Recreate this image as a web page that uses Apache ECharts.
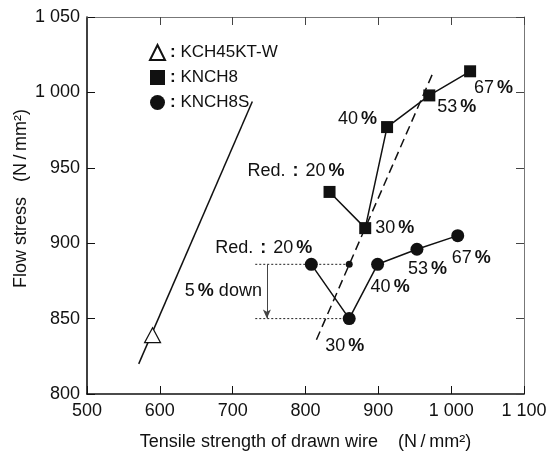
<!DOCTYPE html>
<html>
<head>
<meta charset="utf-8">
<script src="https://cdn.jsdelivr.net/npm/echarts@6/dist/echarts.min.js"></script>
<style>
  html, body { margin: 0; padding: 0; background: #fff; }
  #chart { width: 553px; height: 454px; }
</style>
</head>
<body>
<div id="chart"></div>
<script>
// data
const kchTens = [590];
const kchFlow = [839];
const kchFitLine = [[571, 820], [727, 994]];

const knch8Tens = [833, 882, 912, 970, 1026];
const knch8Flow = [934, 910, 977, 998, 1014];
const knch8Red = ['Red. : 20', '30', '40', '53', '67'];

const knch8sTens = [808, 860, 899, 953, 1009];
const knch8sFlow = [886, 850, 886, 896, 905];
const knch8sRed = ['Red. : 20', '30', '40', '53', '67'];

const trendLine = [[815, 836], [975, 1013]];
const guideStartX = 731;
const arrowX = 747;

const xTicks = { min: 500, max: 1100, step: 100 };
const yTicks = { min: 800, max: 1050, step: 50 };

// label placement (style only)
const knch8LabelPos = [
    { align: 'right', offset: [15, -21] },
    { align: 'left', offset: [10, 0] },
    { align: 'right', offset: [-10, -8] },
    { align: 'left', offset: [8, 12] },
    { align: 'left', offset: [4, 17] }
];
const knch8sLabelPos = [
    { align: 'right', offset: [1, -16] },
    { align: 'left', offset: [-24, 27] },
    { align: 'left', offset: [-7, 23] },
    { align: 'left', offset: [-9, 20] },
    { align: 'left', offset: [-6, 22] }
];

const FONT = "'Liberation Sans', Arial, sans-serif";
const rich = {
    n: { fontSize: 18, fontFamily: FONT, color: '#111' },
    c: { fontSize: 18, fontFamily: FONT, fontWeight: 'bold', color: '#111', padding: [0, 7, 0, 7] },
    b: { fontSize: 18, fontFamily: FONT, fontWeight: 'bold', color: '#111', padding: [0, 0, 0, 3] }
};

function redText(s) {
    if (s.indexOf(':') >= 0) {
        const parts = s.split(':');
        return '{n|' + parts[0].trim() + '}{c|:}{n|' + parts[1].trim() + '}{b|%}';
    }
    return '{n|' + s + '}{b|%}';
}

function pointsWithLabels(xs, ys, reds, pos) {
    return xs.map((x, i) => ({
        value: [x, ys[i]],
        label: {
            show: true,
            position: 'inside',
            align: pos[i].align,
            verticalAlign: 'middle',
            offset: pos[i].offset,
            formatter: redText(reds[i]),
            rich: rich,
            color: '#111'
        }
    }));
}

function fmt(v) {
    return v >= 1000 ? String(v).replace(/(\d)(\d{3})$/, '$1 $2') : String(v);
}

const chart = echarts.init(document.getElementById('chart'));

const option = {
    animation: false,
    backgroundColor: '#fff',
    grid: { left: 87, right: 29, top: 17, bottom: 60, containLabel: false, outerBoundsMode: 'none' },
    legend: {
        left: 144,
        top: 39,
        orient: 'vertical',
        itemWidth: 15,
        itemHeight: 15,
        itemGap: 8,
        selectedMode: false,
        textStyle: {
            fontSize: 17,
            fontFamily: FONT,
            color: '#111',
            rich: {
                b: { fontSize: 17, fontFamily: FONT, fontWeight: 'bold', color: '#111' }
            }
        },
        formatter: name => '{b|:} ' + name,
        data: [
            { name: 'KCH45KT-W', icon: 'triangle' },
            { name: 'KNCH8', icon: 'rect' },
            { name: 'KNCH8S', icon: 'circle' }
        ]
    },
    xAxis: [{
        type: 'value',
        min: xTicks.min,
        max: xTicks.max,
        interval: xTicks.step,
        name: 'Tensile strength of drawn wire    (N\u2009/\u2009mm²)',
        nameLocation: 'middle',
        nameGap: 39,
        nameMoveOverlap: false,
        nameTextStyle: { fontSize: 18, fontFamily: FONT, color: '#111' },
        axisLine: { lineStyle: { color: '#111', width: 1.6 } },
        axisTick: { inside: true, length: 8, lineStyle: { color: '#111' } },
        axisLabel: { fontSize: 18, fontFamily: FONT, color: '#111', margin: 8, formatter: fmt },
        splitLine: { show: false }
    }, {
        type: 'value',
        position: 'top',
        min: xTicks.min,
        max: xTicks.max,
        interval: xTicks.step,
        axisLine: { show: true, lineStyle: { color: '#777', width: 1 } },
        axisTick: { inside: true, length: 8, lineStyle: { color: '#444' } },
        axisLabel: { show: false },
        splitLine: { show: false }
    }],
    yAxis: [{
        type: 'value',
        min: yTicks.min,
        max: yTicks.max,
        interval: yTicks.step,
        name: 'Flow stress   (N\u2009/\u2009mm²)',
        nameLocation: 'middle',
        nameGap: 57,
        nameMoveOverlap: false,
        nameTextStyle: { fontSize: 18, fontFamily: FONT, color: '#111', padding: [0, 0, 0, 14] },
        axisLine: { show: true, lineStyle: { color: '#111', width: 1.6 } },
        axisTick: { show: true, inside: true, length: 8, lineStyle: { color: '#111' } },
        axisLabel: { fontSize: 18, fontFamily: FONT, color: '#111', margin: 7, formatter: fmt },
        splitLine: { show: false }
    }, {
        type: 'value',
        position: 'right',
        min: yTicks.min,
        max: yTicks.max,
        interval: yTicks.step,
        axisLine: { show: true, lineStyle: { color: '#777', width: 1 } },
        axisTick: { show: true, inside: true, length: 8, lineStyle: { color: '#444' } },
        axisLabel: { show: false },
        splitLine: { show: false }
    }],
    series: [
        {
            name: 'kchFit',
            type: 'line',
            data: kchFitLine,
            symbol: 'none',
            lineStyle: { color: '#111', width: 1.5 },
            z: 2
        },
        {
            name: 'trend',
            type: 'line',
            data: trendLine,
            symbol: 'none',
            lineStyle: { color: '#111', width: 1.5, type: [9, 5] },
            z: 2
        },
        {
            name: 'guideHigh',
            type: 'line',
            data: [[guideStartX, knch8sFlow[0]], [knch8sTens[1], knch8sFlow[0]]],
            symbol: 'none',
            lineStyle: { color: '#222', width: 1, type: [2, 2] },
            z: 1
        },
        {
            name: 'guideLow',
            type: 'line',
            data: [[guideStartX, knch8sFlow[1]], [knch8sTens[1], knch8sFlow[1]]],
            symbol: 'none',
            lineStyle: { color: '#222', width: 1, type: [2, 2] },
            z: 1
        },
        {
            name: 'dot',
            type: 'scatter',
            data: [[knch8sTens[1], knch8sFlow[0]]],
            symbol: 'circle',
            symbolSize: 7,
            itemStyle: { color: '#111', opacity: 1 },
            z: 3
        },
        {
            name: 'arrow',
            type: 'line',
            data: [],
            markLine: {
                silent: true,
                symbol: ['none', 'arrow'],
                symbolSize: [6, 9],
                lineStyle: { color: '#444', width: 1, type: 'solid' },
                label: { show: false },
                data: [[
                    { coord: [arrowX, knch8sFlow[0]] },
                    { coord: [arrowX, knch8sFlow[1]] }
                ]]
            },
            markPoint: {
                silent: true,
                symbolSize: 0,
                data: [{
                    coord: [arrowX, (knch8sFlow[0] + knch8sFlow[1]) / 2],
                    label: {
                        show: true,
                        position: 'inside',
                        align: 'right',
                        verticalAlign: 'middle',
                        offset: [-5, 0],
                        formatter: '{n|5}{b|%}{n| down}',
                        rich: rich
                    }
                }]
            }
        },
        {
            name: 'KCH45KT-W',
            type: 'scatter',
            data: kchTens.map((x, i) => [x, kchFlow[i]]),
            symbol: 'triangle',
            symbolSize: [16, 15],
            itemStyle: { color: '#fff', borderColor: '#111', borderWidth: 1.2, opacity: 1 },
            z: 5
        },
        {
            name: 'KNCH8',
            type: 'line',
            data: pointsWithLabels(knch8Tens, knch8Flow, knch8Red, knch8LabelPos),
            symbol: 'rect',
            symbolSize: 12,
            itemStyle: { color: '#111' },
            lineStyle: { color: '#111', width: 1.5 },
            z: 5
        },
        {
            name: 'KNCH8S',
            type: 'line',
            data: pointsWithLabels(knch8sTens, knch8sFlow, knch8sRed, knch8sLabelPos),
            symbol: 'circle',
            symbolSize: 13,
            itemStyle: { color: '#111' },
            lineStyle: { color: '#111', width: 1.5 },
            z: 5
        }
    ]
};

chart.setOption(option);
</script>
</body>
</html>
